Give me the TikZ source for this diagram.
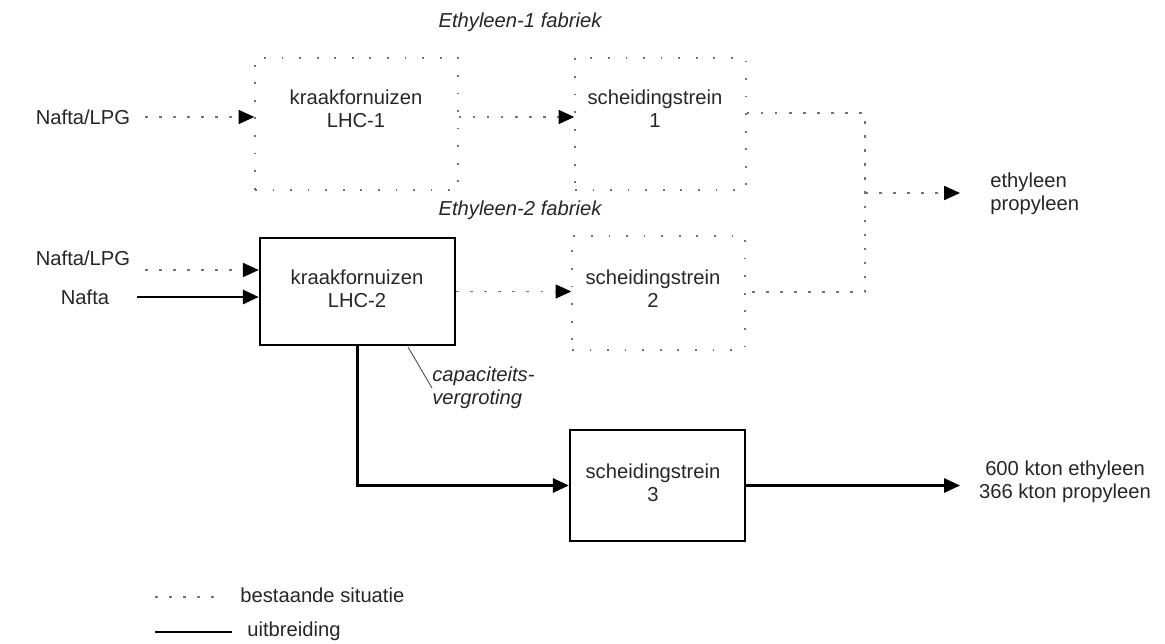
\documentclass[tikz,border=0pt]{standalone}
\usepackage{fontspec}
\setmainfont{Liberation Sans}
\usetikzlibrary{arrows.meta}
\begin{document}
\begin{tikzpicture}[x=0.02cm,y=-0.02cm,
  txt/.style={font=\fontsize{11.5}{13}\selectfont, text=black!85, align=center, inner sep=0pt},
  ital/.style={txt, font=\fontsize{11.5}{13}\selectfont\itshape},
  dbox/.style={draw=black!55, line width=0.8pt, dash pattern=on 1pt off 9pt, inner sep=0pt},
  sbox/.style={draw=black, line width=1.4pt, inner sep=0pt},
  exist/.style={draw=black!55, line width=0.8pt, dash pattern=on 1.5pt off 6.5pt},
  newline/.style={draw=black, line width=1.4pt},
  arr/.style={-{Triangle[length=9pt,width=8pt,black]}}]
\useasboundingbox (0,0) rectangle (1165,644);
% boxes
\node[dbox, minimum width=4.06cm, minimum height=2.64cm] (lhc1) at (356.5,124) {};
\node[dbox, minimum width=3.42cm, minimum height=2.64cm] (sch1) at (660.5,124) {};
\node[sbox, minimum width=3.9cm, minimum height=2.14cm] (lhc2) at (357.5,291.5) {};
\node[dbox, minimum width=3.46cm, minimum height=2.28cm] (sch2) at (658.5,293) {};
\node[sbox, minimum width=3.5cm, minimum height=2.22cm] (sch3) at (657.5,485.5) {};
% texts
\node[txt] (lhc1t) at (356,109) {kraakfornuizen\\LHC-1};
\node[txt] (sch1t) at (655,109) {scheidingstrein\\1};
\node[txt] (lhc2t) at (357,289) {kraakfornuizen\\LHC-2};
\node[txt] (sch2t) at (653,289) {scheidingstrein\\2};
\node[txt] (sch3t) at (653,483) {scheidingstrein\\3};
\node[ital] (t1) at (520,22) {Ethyleen-1 fabriek};
\node[ital] (t2) at (520,210) {Ethyleen-2 fabriek};
\node[txt] (naf1) at (83,117) {Nafta/LPG};
\node[txt] (naf2) at (83,258) {Nafta/LPG};
\node[txt] (naf3) at (85,297) {Nafta};
\node[txt, align=left, anchor=west] (eth) at (990,194) {ethyleen\\propyleen};
\node[txt] (out) at (1065,482) {600 kton ethyleen\\366 kton propyleen};
\node[ital, align=left, anchor=west] (cap) at (432,388) {capaciteits-\\vergroting};
\node[txt, anchor=west] (leg1) at (240,595) {bestaande situatie};
\node[txt, anchor=west] (leg2) at (247,631) {uitbreiding};
% coordinates
\coordinate (a1) at (145,117);
\coordinate (a2) at (145,270);
\coordinate (a3) at (137,297);
\coordinate (c1) at ([yshift=0.14cm]lhc1.east);
\coordinate (c2) at ([yshift=0.22cm]sch1.east);
\coordinate (j1) at (865,113);
\coordinate (j2) at (865,292);
\coordinate (j3) at (865,193);
\coordinate (tip1) at (960,193);
\coordinate (tip3) at (960,0);
\coordinate (cl) at (408,347);
\coordinate (l1) at (155,597);
\coordinate (l2) at (155,632);
% connectors
\draw[exist,arr] (a1) -- (a1 -| lhc1.west);
\draw[exist,arr] (c1) -- (c1 -| sch1.west);
\draw[exist] (c2) -- (c2 -| j1) -- (j2) -- (j2 -| sch2.east);
\draw[exist,arr] (j3) -- (tip1);
\draw[exist,arr] (a2) -- (a2 -| lhc2.west);
\draw[newline,arr] (a3) -- (a3 -| lhc2.west);
\draw[exist,arr] (lhc2.east) -- (lhc2.east -| sch2.west);
\draw[newline,arr] (lhc2.south) -- (lhc2.south |- sch3.west) -- (sch3.west);
\draw[newline,arr] (sch3.east) -- (sch3.east -| tip3);
\draw[black!70, line width=0.5pt] (cl) -- (cap.west);
\draw[exist, shorten >=0.44cm] (l1) -- (l1 -| leg1.west);
\draw[newline, shorten >=0.3cm] (l2) -- (l2 -| leg2.west);
\end{tikzpicture}
\end{document}
